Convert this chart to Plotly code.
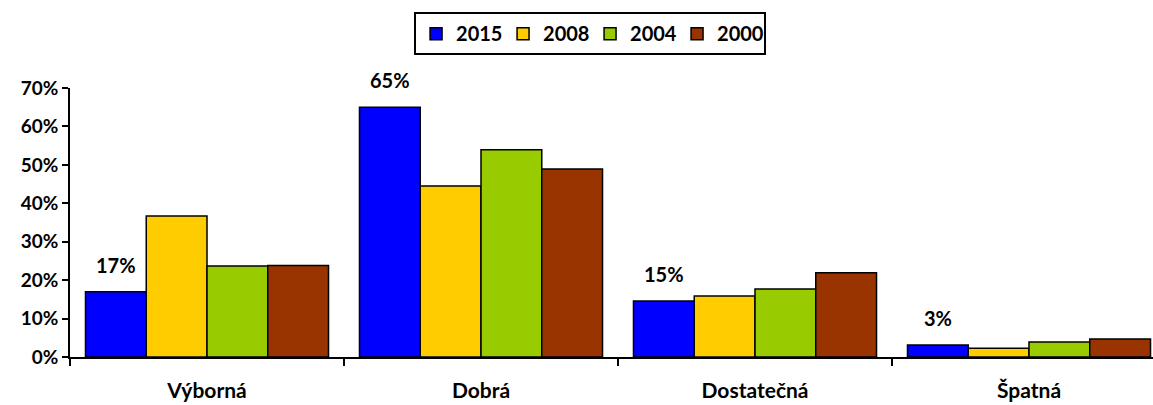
import plotly.graph_objects as go

categories = ["Výborná", "Dobrá", "Dostatečná", "Špatná"]
series_names = ["2015", "2008", "2004", "2000"]
v2015 = [0.17, 0.65, 0.146, 0.031]
v2008 = [0.367, 0.445, 0.159, 0.023]
v2004 = [0.237, 0.539, 0.177, 0.039]
v2000 = [0.238, 0.489, 0.219, 0.047]
label_text = ["17%", "65%", "15%", "3%"]
colors = ["#0000FF", "#FFCC00", "#99CC00", "#993300"]
y_ticks = [0, 0.1, 0.2, 0.3, 0.4, 0.5, 0.6, 0.7]
y_ticklabels = ["0%", "10%", "20%", "30%", "40%", "50%", "60%", "70%"]

FONT = "Lato, 'Open Sans', sans-serif"
fig = go.Figure()
for name, vals, col in zip(series_names, [v2015, v2008, v2004, v2000], colors):
    fig.add_trace(go.Bar(
        x=categories, y=vals, name=name,
        marker=dict(color=col, line=dict(color="black", width=1.5)),
    ))

W, H = 1170, 405
ml, mr, mt, mb = 70, 4, 88, 48
bargap = 0.113
cat_px = (W - ml - mr) / len(categories)
bar_px = cat_px * (1 - bargap) / len(series_names)
for cat, val, txt in zip(categories, v2015, label_text):
    fig.add_annotation(x=cat, y=val, xref="x", yref="y", text=txt, showarrow=False,
                       xshift=-1.5 * bar_px, yshift=27,
                       font=dict(family=FONT, size=20, color="black", weight="bold"))

fig.update_layout(
    width=W, height=H,
    margin=dict(l=ml, r=mr, t=mt, b=mb),
    paper_bgcolor="white", plot_bgcolor="white",
    barmode="group", bargap=bargap, bargroupgap=0,
    font=dict(family=FONT, size=20, color="black", weight="bold"),
    showlegend=True,
    legend=dict(orientation="h", x=0.4745, xanchor="center", yref="container", y=0.97, yanchor="top",
                bordercolor="black", borderwidth=2, font=dict(size=20, weight="bold"),
                itemwidth=30, tracegroupgap=0, entrywidth=42),
    xaxis=dict(showline=True, linecolor="black", linewidth=1.5, ticks="outside", tickson="boundaries",
               ticklen=7, tickcolor="black", tickwidth=1.5, ticklabelstandoff=14,
               showgrid=False, automargin=False, tickfont=dict(size=21)),
    yaxis=dict(range=[0, 0.7], tickvals=y_ticks, ticktext=y_ticklabels, showline=True,
               linecolor="black", linewidth=1.5, ticks="outside", ticklen=6, tickcolor="black",
               tickwidth=1.5, showgrid=False, zeroline=False, automargin=False,
               tickfont=dict(size=19)),
)
fig.write_html("out.html", config={"displayModeBar": False},
               post_script="document.body.style.margin='0';document.body.style.overflow='hidden';")
